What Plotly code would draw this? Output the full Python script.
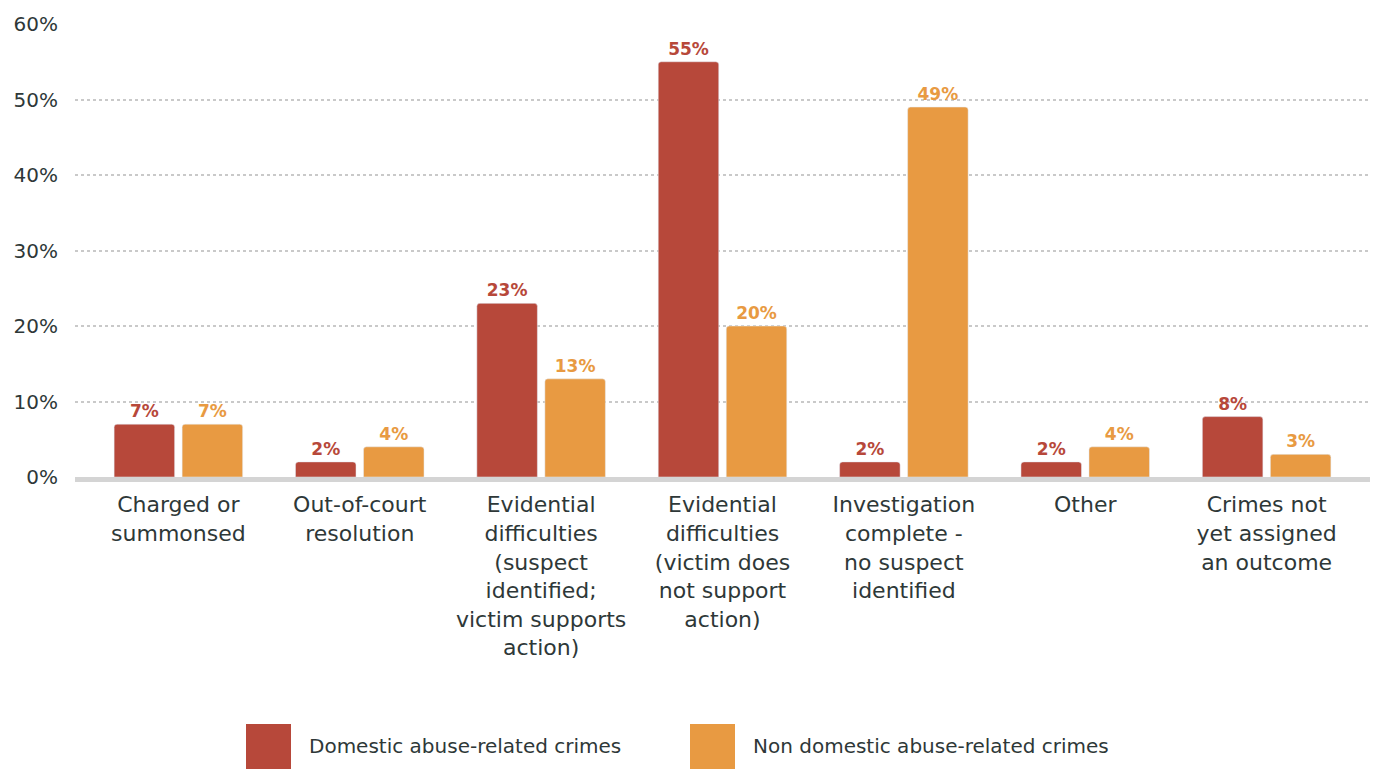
import plotly.graph_objects as go

categories = [
    "Charged or<br>summonsed",
    "Out-of-court<br>resolution",
    "Evidential<br>difficulties<br>(suspect<br>identified;<br>victim supports<br>action)",
    "Evidential<br>difficulties<br>(victim does<br>not support<br>action)",
    "Investigation<br>complete -<br>no suspect<br>identified",
    "Other",
    "Crimes not<br>yet assigned<br>an outcome",
]
domestic = [7, 2, 23, 55, 2, 2, 8]
non_domestic = [7, 4, 13, 20, 49, 4, 3]
series_names = ["Domestic abuse-related crimes", "Non domestic abuse-related crimes"]
y_ticks = [0, 10, 20, 30, 40, 50, 60]
y_tick_labels = ["0%", "10%", "20%", "30%", "40%", "50%", "60%"]

RED = "#B7483A"
ORANGE = "#E89A42"
TEXT = "#2E3838"
FONT = "DejaVu Sans, Verdana, sans-serif"

x = list(range(len(categories)))

fig = go.Figure()
fig.add_trace(go.Bar(
    x=x, y=domestic, name=series_names[0], marker_color=RED,
    text=[f"{v}%" for v in domestic], texttemplate="%{text}", textposition="outside",
    textfont=dict(color=RED, size=17, family=FONT, weight="bold"),
    cliponaxis=False,
))
fig.add_trace(go.Bar(
    x=x, y=non_domestic, name=series_names[1], marker_color=ORANGE,
    text=[f"{v}%" for v in non_domestic], texttemplate="%{text}", textposition="outside",
    textfont=dict(color=ORANGE, size=17, family=FONT, weight="bold"),
    cliponaxis=False,
))

# page offset of 8px (body margin) -> work in page pixels, convert to figure pixels
OFF = 8
W, H = 1370, 761
PL, PR, PT, PB = 75, 1370, 24, 477  # plot area in page pixels
L = PL - OFF
T = PT - OFF
R = W - (PR - OFF)
B = H - (PB - OFF)
plot_w = W - L - R
plot_h = H - T - B

def px_x(X):
    return (X - OFF - L) / plot_w

def px_y(Y):
    return (H - B - (Y - OFF)) / plot_h

fig.update_layout(
    width=W, height=H,
    margin=dict(l=L, r=R, t=T, b=B, autoexpand=False),
    paper_bgcolor="white", plot_bgcolor="white",
    barmode="group", bargap=0.25, bargroupgap=0.11,
    barcornerradius=3,
    showlegend=False,
    font=dict(family=FONT, color=TEXT),
    xaxis=dict(
        tickmode="array", tickvals=x, ticktext=categories,
        range=[-0.57, 6.57],
        tickfont=dict(size=22, color=TEXT, family=FONT),
        showgrid=False, zeroline=False,
        showline=True, linecolor="#D4D4D4", linewidth=5,
        ticks="outside", ticklen=4, tickcolor="rgba(0,0,0,0)",
        automargin=False,
    ),
    yaxis=dict(
        range=[0, 60], tickmode="array", tickvals=y_ticks, ticktext=y_tick_labels,
        tickfont=dict(size=20, color=TEXT, family=FONT),
        showgrid=True, gridcolor="#C9C9C9", gridwidth=1.5, griddash="dot",
        zeroline=False, showline=False,
        ticks="outside", ticklen=12, tickcolor="rgba(0,0,0,0)",
        automargin=False,
    ),
)

# custom legend
legend_items = [(246, 307, RED, series_names[0]), (690, 751, ORANGE, series_names[1])]
for sx, tx, col, name in legend_items:
    fig.add_shape(
        type="rect", xref="paper", yref="paper",
        x0=px_x(sx), x1=px_x(sx + 45), y0=px_y(769), y1=px_y(724),
        fillcolor=col, line=dict(width=0), layer="above",
    )
    fig.add_annotation(
        xref="paper", yref="paper", x=px_x(tx), y=px_y(746),
        text=name, showarrow=False, xanchor="left", yanchor="middle",
        font=dict(size=20, color=TEXT, family=FONT),
    )

fig.write_html("out.html")
